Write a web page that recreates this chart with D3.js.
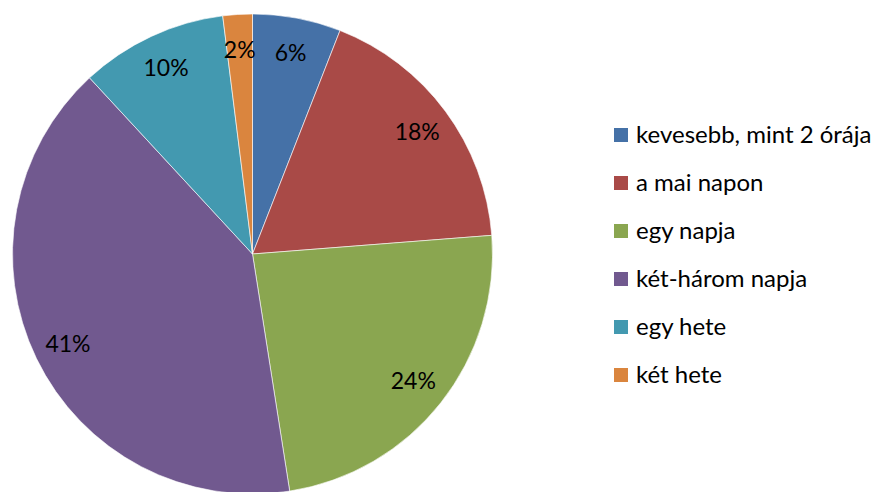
<!DOCTYPE html>
<html>
<head>
<meta charset="utf-8">
<script src="https://cdn.jsdelivr.net/npm/d3@7"></script>
<style>
  html, body { margin: 0; padding: 0; background: #fff; }
  svg { display: block; }
</style>
</head>
<body>
<svg id="chart" width="887" height="492"></svg>
<script>
// Categories, shares (%) and slice colours
const categories = ["kevesebb, mint 2 órája", "a mai napon", "egy napja", "két-három napja", "egy hete", "két hete"];
const values = [6, 18, 24, 41, 10, 2];
const colors = ["#4571A7", "#A94A47", "#8AA650", "#71598F", "#4399B0", "#DA853E"];

const svg = d3.select("#chart");
const font = "Lato, 'Open Sans', sans-serif";

const cx = 252.5, cy = 254, radius = 240, labelRadius = 205;

const pie = d3.pie().sort(null).value(d => d.value);
const data = categories.map((c, i) => ({ name: c, value: values[i], color: colors[i] }));
const arcs = pie(data);

const arc = d3.arc().innerRadius(0).outerRadius(radius);
const labelArc = d3.arc().innerRadius(labelRadius).outerRadius(labelRadius);

const g = svg.append("g").attr("transform", `translate(${cx},${cy})`);

g.selectAll("path.slice")
  .data(arcs)
  .join("path")
  .attr("class", "slice")
  .attr("d", arc)
  .attr("fill", d => d.data.color)
  .attr("stroke", "#ffffff")
  .attr("stroke-width", 0.6);

g.selectAll("text.pct")
  .data(arcs)
  .join("text")
  .attr("class", "pct")
  .attr("transform", d => `translate(${labelArc.centroid(d)})`)
  .attr("text-anchor", "middle")
  .attr("dy", "0.36em")
  .attr("font-family", font)
  .attr("font-size", 23)
  .attr("fill", "#000")
  .text(d => d.data.value + "%");

// Legend
const legendY = d3.scaleBand().domain(categories).range([111, 399]);
const legend = svg.append("g");
const items = legend.selectAll("g.item")
  .data(data)
  .join("g")
  .attr("class", "item")
  .attr("transform", d => `translate(0,${legendY(d.name) + legendY.bandwidth() / 2})`);

items.append("rect")
  .attr("x", 614)
  .attr("y", -7)
  .attr("width", 14)
  .attr("height", 14)
  .attr("fill", d => d.color);

items.append("text")
  .attr("x", 636)
  .attr("dy", "0.35em")
  .attr("font-family", font)
  .attr("font-size", 24)
  .attr("fill", "#000")
  .text(d => d.name);
</script>
</body>
</html>
